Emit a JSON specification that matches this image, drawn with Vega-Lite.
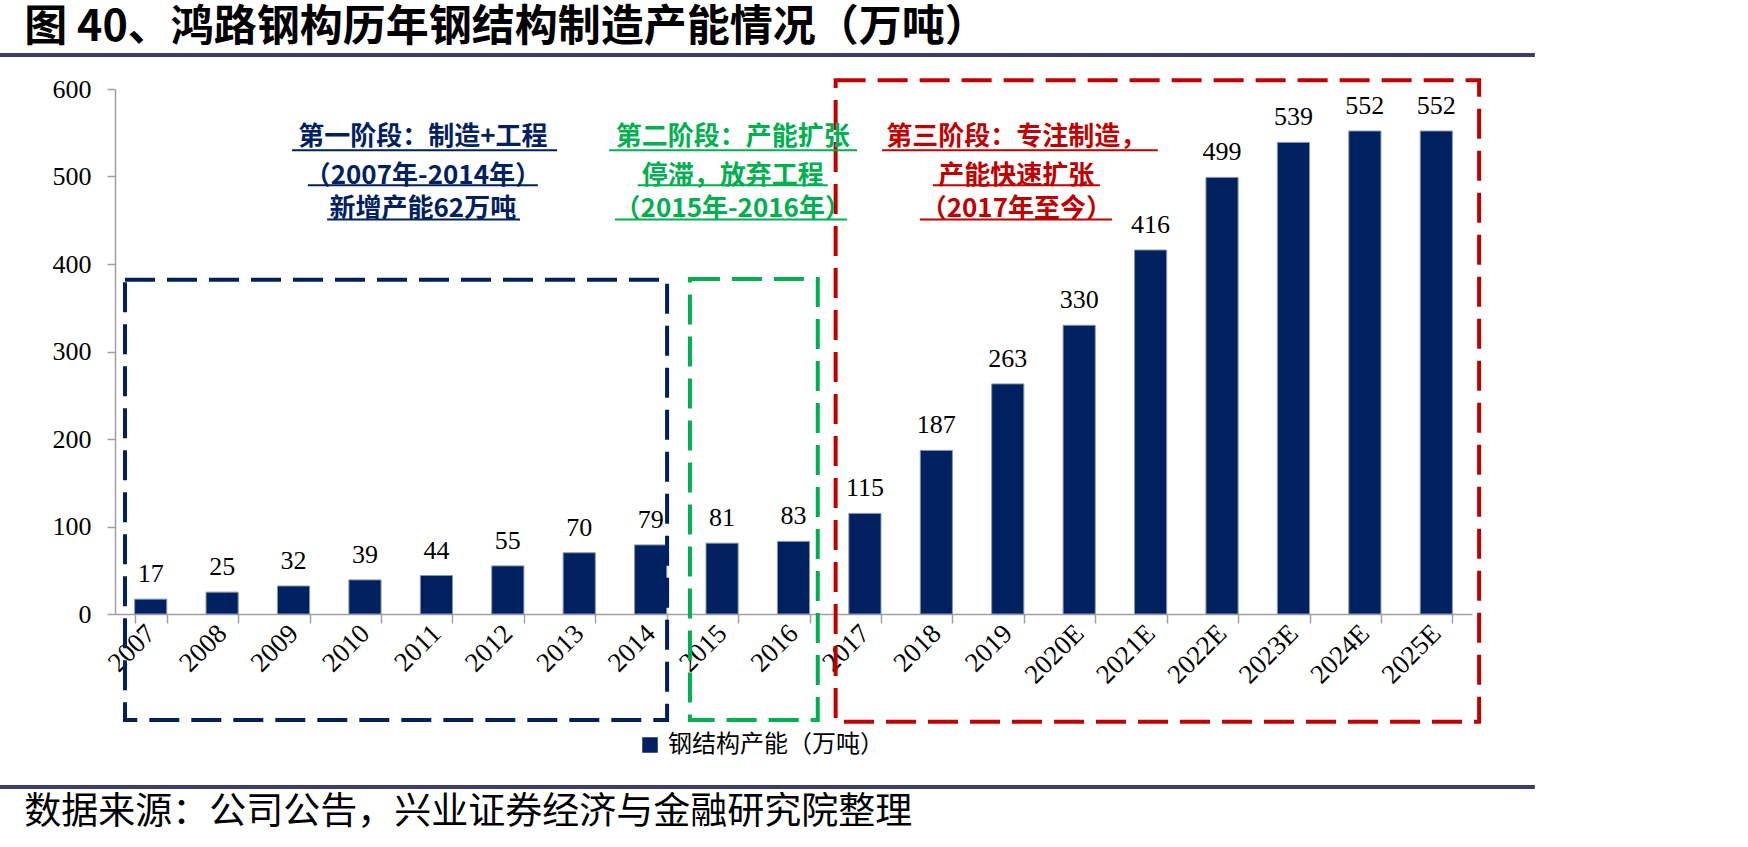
{
  "$schema": "https://vega.github.io/schema/vega-lite/v6.json",
  "width": 1357,
  "height": 525,
  "autosize": {"type": "none"},
  "padding": {"left": 115, "top": 89, "right": 276, "bottom": 233},
  "background": "white",
  "config": {"view": {"stroke": null}},
  "layer": [
    {
      "data": {
        "values": [
          {"year": "2007", "capacity": 17},
          {"year": "2008", "capacity": 25},
          {"year": "2009", "capacity": 32},
          {"year": "2010", "capacity": 39},
          {"year": "2011", "capacity": 44},
          {"year": "2012", "capacity": 55},
          {"year": "2013", "capacity": 70},
          {"year": "2014", "capacity": 79},
          {"year": "2015", "capacity": 81},
          {"year": "2016", "capacity": 83},
          {"year": "2017", "capacity": 115},
          {"year": "2018", "capacity": 187},
          {"year": "2019", "capacity": 263},
          {"year": "2020E", "capacity": 330},
          {"year": "2021E", "capacity": 416},
          {"year": "2022E", "capacity": 499},
          {"year": "2023E", "capacity": 539},
          {"year": "2024E", "capacity": 552},
          {"year": "2025E", "capacity": 552}
        ]
      },
      "encoding": {
        "x": {
          "field": "year",
          "type": "nominal",
          "sort": null,
          "scale": {"paddingInner": 0.55, "paddingOuter": 0.275},
          "axis": {
            "title": null,
            "tickBand": "extent",
            "tickSize": 9,
            "tickColor": "#a0a0a0",
            "tickWidth": 1.5,
            "domainColor": "#a0a0a0",
            "domainWidth": 1.5,
            "labelAngle": -45,
            "labelAlign": "right",
            "labelBaseline": "middle",
            "labelFont": "Liberation Serif",
            "labelFontSize": 27,
            "labelColor": "#000000",
            "labelPadding": 6,
            "labelOverlap": false
          }
        },
        "y": {
          "field": "capacity",
          "type": "quantitative",
          "scale": {"domain": [0, 600], "nice": false},
          "axis": {
            "title": null,
            "values": [0, 100, 200, 300, 400, 500, 600],
            "grid": false,
            "tickSize": 8,
            "tickColor": "#a0a0a0",
            "tickWidth": 1.5,
            "domainColor": "#a0a0a0",
            "domainWidth": 1.5,
            "labelFont": "Liberation Serif",
            "labelFontSize": 26,
            "labelColor": "#000000",
            "labelPadding": 16
          }
        }
      },
      "layer": [
        {
          "mark": {"type": "bar", "stroke": "#8497b0", "strokeWidth": 1},
          "encoding": {
            "color": {
              "datum": "钢结构产能（万吨）",
              "type": "nominal",
              "scale": {"range": ["#002060"]},
              "legend": {
                "orient": "none",
                "legendX": 523,
                "legendY": 644,
                "title": null,
                "symbolType": "square",
                "symbolSize": 240,
                "symbolStrokeWidth": 0,
                "labelFont": "Noto Sans CJK SC",
                "labelFontSize": 24,
                "labelColor": "#000000",
                "labelOffset": 6,
                "labelLimit": 0,
                "padding": 0
              }
            }
          }
        },
        {
          "mark": {"type": "text", "dy": -17, "baseline": "alphabetic", "font": "Liberation Serif", "fontSize": 26, "color": "#000000"},
          "encoding": {"text": {"field": "capacity", "type": "quantitative"}}
        }
      ]
    },
    {
      "layer": [
        {
          "data": {
            "values": [
              {"stage": "s1", "x1": 0.14, "x2": 7.73, "y1": 382, "y2": -121},
              {"stage": "s2", "x1": 8.05, "x2": 9.84, "y1": 383, "y2": -121},
              {"stage": "s3", "x1": 10.09, "x2": 19.1, "y1": 610, "y2": -123}
            ]
          },
          "mark": {"type": "rect", "filled": false, "strokeWidth": 4, "strokeDash": [30, 12]},
          "encoding": {
            "x": {"field": "x1", "type": "quantitative", "scale": {"domain": [0, 19], "nice": false, "zero": false}, "axis": null},
            "x2": {"field": "x2"},
            "y": {"field": "y1", "type": "quantitative", "scale": {"domain": [0, 600], "nice": false, "zero": false}, "axis": null},
            "y2": {"field": "y2"},
            "color": {"field": "stage", "type": "nominal", "scale": {"domain": ["s1", "s2", "s3"], "range": ["#002060", "#00b050", "#c00000"]}, "legend": null}
          }
        },
        {
          "data": {
            "values": [
              {"stage": "s1", "x": 4.31, "y": 545, "text": "第一阶段：制造+工程"},
              {"stage": "s1", "x": 4.31, "y": 501, "text": "（2007年-2014年）"},
              {"stage": "s1", "x": 4.31, "y": 463, "text": "新增产能62万吨"},
              {"stage": "s2", "x": 8.65, "y": 545, "text": "第二阶段：产能扩张"},
              {"stage": "s2", "x": 8.65, "y": 501, "text": "停滞，放弃工程"},
              {"stage": "s2", "x": 8.65, "y": 463, "text": "（2015年-2016年）"},
              {"stage": "s3", "x": 12.62, "y": 545, "text": "第三阶段：专注制造，"},
              {"stage": "s3", "x": 12.62, "y": 501, "text": "产能快速扩张"},
              {"stage": "s3", "x": 12.62, "y": 463, "text": "（2017年至今）"}
            ]
          },
          "mark": {"type": "text", "font": "Noto Sans CJK SC", "fontWeight": "bold", "fontSize": 26, "align": "center", "baseline": "middle"},
          "encoding": {
            "x": {"field": "x", "type": "quantitative", "scale": {"domain": [0, 19], "nice": false, "zero": false}, "axis": null},
            "y": {"field": "y", "type": "quantitative", "scale": {"domain": [0, 600], "nice": false, "zero": false}, "axis": null},
            "text": {"field": "text"},
            "color": {"field": "stage", "type": "nominal", "scale": {"domain": ["s1", "s2", "s3"], "range": ["#002060", "#00b050", "#c00000"]}, "legend": null}
          }
        },
        {
          "data": {
            "values": [
              {"stage": "s1", "x1": 2.48, "x2": 6.19, "y": 530},
              {"stage": "s1", "x1": 2.70, "x2": 5.92, "y": 490},
              {"stage": "s1", "x1": 2.97, "x2": 5.67, "y": 451},
              {"stage": "s2", "x1": 6.92, "x2": 10.39, "y": 530},
              {"stage": "s2", "x1": 7.32, "x2": 9.98, "y": 490},
              {"stage": "s2", "x1": 7.0, "x2": 10.25, "y": 451},
              {"stage": "s3", "x1": 10.74, "x2": 14.6, "y": 530},
              {"stage": "s3", "x1": 11.45, "x2": 13.79, "y": 490},
              {"stage": "s3", "x1": 11.27, "x2": 13.96, "y": 451}
            ]
          },
          "mark": {"type": "rule", "strokeWidth": 2},
          "encoding": {
            "x": {"field": "x1", "type": "quantitative", "scale": {"domain": [0, 19], "nice": false, "zero": false}, "axis": null},
            "x2": {"field": "x2"},
            "y": {"field": "y", "type": "quantitative", "scale": {"domain": [0, 600], "nice": false, "zero": false}, "axis": null},
            "color": {"field": "stage", "type": "nominal", "scale": {"domain": ["s1", "s2", "s3"], "range": ["#002060", "#00b050", "#c00000"]}, "legend": null}
          }
        },
        {
          "data": {
            "values": [
              {"x1": -1.61, "x2": 19.88, "y": 638.9},
              {"x1": -1.61, "x2": 19.88, "y": -197.7}
            ]
          },
          "mark": {"type": "rule", "strokeWidth": 4, "color": "#3c3d6c"},
          "encoding": {
            "x": {"field": "x1", "type": "quantitative", "scale": {"domain": [0, 19], "nice": false, "zero": false}, "axis": null},
            "x2": {"field": "x2"},
            "y": {"field": "y", "type": "quantitative", "scale": {"domain": [0, 600], "nice": false, "zero": false}, "axis": null}
          }
        },
        {
          "data": {
            "values": [
              {"x": -1.27, "y": 670, "text": "图 40、鸿路钢构历年钢结构制造产能情况（万吨）"}
            ]
          },
          "mark": {"type": "text", "font": "Noto Sans CJK SC", "fontWeight": "bold", "fontSize": 43, "align": "left", "baseline": "middle", "color": "#000000"},
          "encoding": {
            "x": {"field": "x", "type": "quantitative", "scale": {"domain": [0, 19], "nice": false, "zero": false}, "axis": null},
            "y": {"field": "y", "type": "quantitative", "scale": {"domain": [0, 600], "nice": false, "zero": false}, "axis": null},
            "text": {"field": "text"}
          }
        },
        {
          "data": {
            "values": [
              {"x": -1.27, "y": -227, "text": "数据来源：公司公告，兴业证券经济与金融研究院整理"}
            ]
          },
          "mark": {"type": "text", "font": "Noto Sans CJK SC", "fontSize": 37, "align": "left", "baseline": "middle", "color": "#000000"},
          "encoding": {
            "x": {"field": "x", "type": "quantitative", "scale": {"domain": [0, 19], "nice": false, "zero": false}, "axis": null},
            "y": {"field": "y", "type": "quantitative", "scale": {"domain": [0, 600], "nice": false, "zero": false}, "axis": null},
            "text": {"field": "text"}
          }
        }
      ]
    }
  ],
  "resolve": {"scale": {"x": "independent", "y": "independent", "color": "independent"}}
}
